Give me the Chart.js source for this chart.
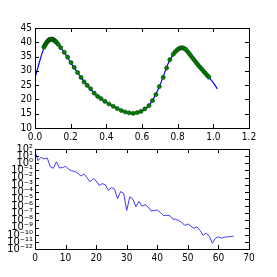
<!DOCTYPE html>
<html>
<head>
<meta charset="utf-8">
<script src="https://cdn.jsdelivr.net/npm/chart.js@4"></script>
<style>
  html, body { margin: 0; padding: 0; background: #fff; }
  #wrap { position: relative; width: 277px; height: 277px; }
  canvas { position: absolute; left: 0; }
  #topChart { top: 0; }
  #bottomChart { top: 140px; }
</style>
</head>
<body>
<div id="wrap">
  <canvas id="topChart" width="277" height="140"></canvas>
  <canvas id="bottomChart" width="277" height="137"></canvas>
</div>
<script>
// top plot: fitted curve (line) + samples (dots)
const lineX = [0, 0.02, 0.04, 0.06, 0.08, 0.095, 0.11, 0.13, 0.16, 0.2, 0.25, 0.3, 0.35, 0.4, 0.45, 0.5, 0.55, 0.6, 0.65, 0.7, 0.75, 0.79, 0.82, 0.85, 0.9, 0.95, 1.0, 1.023];
const lineY = [27.5, 32, 36.2, 39.4, 40.9, 41.1, 40.6, 39.3, 36.8, 32.9, 28.4, 24.5, 21.1, 19.0, 17.2, 15.7, 15.1, 15.9, 18.8, 24.9, 33.0, 36.9, 38.1, 37.0, 33.2, 29.5, 25.8, 23.7];

const dotX = [0.05, 0.055, 0.06, 0.065, 0.07, 0.075, 0.08, 0.085, 0.09, 0.095, 0.10, 0.105, 0.11, 0.115, 0.12, 0.13,
  0.144, 0.164, 0.183, 0.202, 0.220, 0.239, 0.258, 0.275, 0.293, 0.312, 0.332, 0.351, 0.370, 0.392, 0.415, 0.439,
  0.461, 0.484, 0.506, 0.528, 0.551, 0.573, 0.594, 0.616, 0.639, 0.659, 0.678, 0.697, 0.719, 0.738, 0.756, 0.775,
  0.785, 0.795, 0.805, 0.815, 0.825, 0.835, 0.845, 0.855, 0.865, 0.875, 0.885, 0.895, 0.905, 0.915, 0.925, 0.935,
  0.945, 0.955, 0.965, 0.975];
const dotY = [38.3, 38.9, 39.4, 39.9, 40.3, 40.6, 40.9, 41.0, 41.1, 41.1, 41.0, 40.8, 40.6, 40.3, 40.0, 39.3,
  38.1, 36.5, 34.8, 32.9, 31.2, 29.4, 27.7, 26.1, 24.9, 23.7, 22.2, 21.1, 20.3, 19.3, 18.4, 17.6,
  16.8, 16.1, 15.6, 15.3, 15.1, 15.4, 15.8, 16.7, 17.8, 19.6, 21.7, 24.5, 27.7, 31.0, 33.9, 35.8,
  36.6, 37.2, 37.7, 38.0, 38.1, 37.9, 37.5, 36.8, 36.0, 35.2, 34.4, 33.6, 32.8, 32.0, 31.3, 30.6,
  29.9, 29.2, 28.5, 27.8];

const topXTicks = [0, 0.2, 0.4, 0.6, 0.8, 1.0, 1.2];
const topYTicks = [10, 15, 20, 25, 30, 35, 40, 45];

// bottom plot: error per iteration (log scale)
const iterX = [0, 1, 2, 3, 4, 5, 6, 7, 8, 9, 10, 11, 12, 13, 14, 15, 16, 17, 18, 19, 20, 21, 22, 23, 24, 25, 26, 27, 28, 29, 30, 31, 32,
  33, 34, 35, 36, 37, 38, 39, 40, 41, 42, 43, 44, 45, 46, 47, 48, 49, 50, 51, 52, 53, 54, 55, 56, 57, 58, 59, 60, 61, 62, 63, 64, 65];
const errY = [50, 2.5, 7.1, 4.0, 5.6, 0.32, 0.2, 1.6, 0.22, 0.25, 0.38, 0.14, 0.089, 0.071, 0.045, 0.016, 0.032, 0.01,
  2.5e-3, 7.1e-3, 3.5e-3, 7.9e-4, 1.4e-3, 1e-3, 1.6e-4, 4e-4, 2.5e-4, 1.1e-5, 1.1e-4, 6.3e-5, 2.5e-7, 2e-5, 1e-5,
  7.9e-7, 4.5e-6, 1e-6, 1.6e-6, 7.9e-7, 2e-7, 2.5e-7, 2.8e-7, 1.3e-7, 5e-8, 5e-8, 5e-8, 1.6e-8, 1.4e-8, 1e-8,
  5e-9, 2e-9, 3.2e-9, 1.6e-9, 7.9e-10, 1.3e-9, 4e-10, 7.9e-11, 1.8e-10, 6.3e-11, 6.3e-12, 3.2e-11, 5e-11, 3.2e-11,
  4.5e-11, 5e-11, 5.6e-11, 6.3e-11];

const bottomXTicks = [0, 10, 20, 30, 40, 50, 60, 70];
const bottomYExps = [-12, -11, -10, -9, -8, -7, -6, -5, -4, -3, -2, -1, 0, 1, 2];

const FONT = { family: "'Liberation Sans Narrow', 'DejaVu Sans Condensed', sans-serif", size: 10 };

const sup = { '-': '\u207B', '0': '\u2070', '1': '\u00B9', '2': '\u00B2', '3': '\u00B3', '4': '\u2074',
  '5': '\u2075', '6': '\u2076', '7': '\u2077', '8': '\u2078', '9': '\u2079' };
const powLabel = v => '10' + String(Math.round(Math.log10(v))).split('').map(c => sup[c]).join('');

// matplotlib style box with inward ticks on all four sides
const framePlugin = {
  id: 'frame',
  afterDraw(chart) {
    const { ctx, chartArea: a, scales } = chart;
    ctx.save();
    ctx.strokeStyle = '#000';
    ctx.lineWidth = 1;
    ctx.beginPath();
    scales.x.ticks.forEach(t => {
      const p = Math.round(scales.x.getPixelForValue(t.value)) + 0.5;
      ctx.moveTo(p, a.bottom); ctx.lineTo(p, a.bottom - 4);
      ctx.moveTo(p, a.top); ctx.lineTo(p, a.top + 4);
    });
    scales.y.ticks.forEach(t => {
      const p = Math.round(scales.y.getPixelForValue(t.value)) + 0.5;
      ctx.moveTo(a.left, p); ctx.lineTo(a.left + 4, p);
      ctx.moveTo(a.right, p); ctx.lineTo(a.right - 4, p);
    });
    ctx.stroke();
    ctx.strokeRect(Math.round(a.left) + 0.5, Math.round(a.top) + 0.5,
      Math.round(a.right - a.left), Math.round(a.bottom - a.top));
    ctx.restore();
  }
};

const baseAxis = {
  grid: { display: false, drawTicks: false },
  border: { display: false },
  ticks: { color: '#000', font: FONT, padding: 3, autoSkip: false, maxRotation: 0 }
};

// top chart
new Chart(document.getElementById('topChart'), {
  type: 'line',
  data: {
    datasets: [{
      data: dotX.map((x, i) => ({ x: x, y: dotY[i] })),
      showLine: false,
      pointRadius: 2.1,
      pointBackgroundColor: '#008000',
      pointBorderColor: '#003300',
      pointBorderWidth: 0.5
    }, {
      data: lineX.map((x, i) => ({ x: x, y: lineY[i] })),
      borderColor: '#0000ff',
      borderWidth: 1.2,
      pointRadius: 0,
      cubicInterpolationMode: 'monotone'
    }]
  },
  options: {
    responsive: false,
    animation: false,
    devicePixelRatio: 1,
    layout: { padding: { top: 28, right: 28, left: 0, bottom: 0 } },
    plugins: { legend: { display: false }, tooltip: { enabled: false } },
    scales: {
      x: {
        ...baseAxis, type: 'linear', min: 0, max: 1.2,
        afterBuildTicks: s => { s.ticks = topXTicks.map(v => ({ value: v })); },
        afterFit: s => { s.height = 12; },
        ticks: { ...baseAxis.ticks, callback: v => v.toFixed(1) }
      },
      y: {
        ...baseAxis, type: 'linear', min: 10, max: 45,
        afterBuildTicks: s => { s.ticks = topYTicks.map(v => ({ value: v })); },
        afterFit: s => { s.width = 35; }
      }
    }
  },
  plugins: [framePlugin]
});

// bottom chart
new Chart(document.getElementById('bottomChart'), {
  type: 'line',
  data: {
    datasets: [{
      data: iterX.map((x, i) => ({ x: x, y: errY[i] })),
      borderColor: '#3a3aff',
      borderWidth: 1,
      pointRadius: 0,
      tension: 0
    }]
  },
  options: {
    responsive: false,
    animation: false,
    devicePixelRatio: 1,
    layout: { padding: { top: 9, right: 28, left: 0, bottom: 0 } },
    plugins: { legend: { display: false }, tooltip: { enabled: false } },
    scales: {
      x: {
        ...baseAxis, type: 'linear', min: 0, max: 70,
        afterBuildTicks: s => { s.ticks = bottomXTicks.map(v => ({ value: v })); },
        afterFit: s => { s.height = 28; }
      },
      y: {
        ...baseAxis, type: 'logarithmic', min: 1e-12, max: 1e2,
        afterBuildTicks: s => { s.ticks = bottomYExps.map(e => ({ value: Math.pow(10, e) })); },
        afterFit: s => { s.width = 35; },
        ticks: { ...baseAxis.ticks, padding: 2, font: { ...FONT, size: 11 }, callback: v => powLabel(v) }
      }
    }
  },
  plugins: [framePlugin]
});
</script>
</body>
</html>
